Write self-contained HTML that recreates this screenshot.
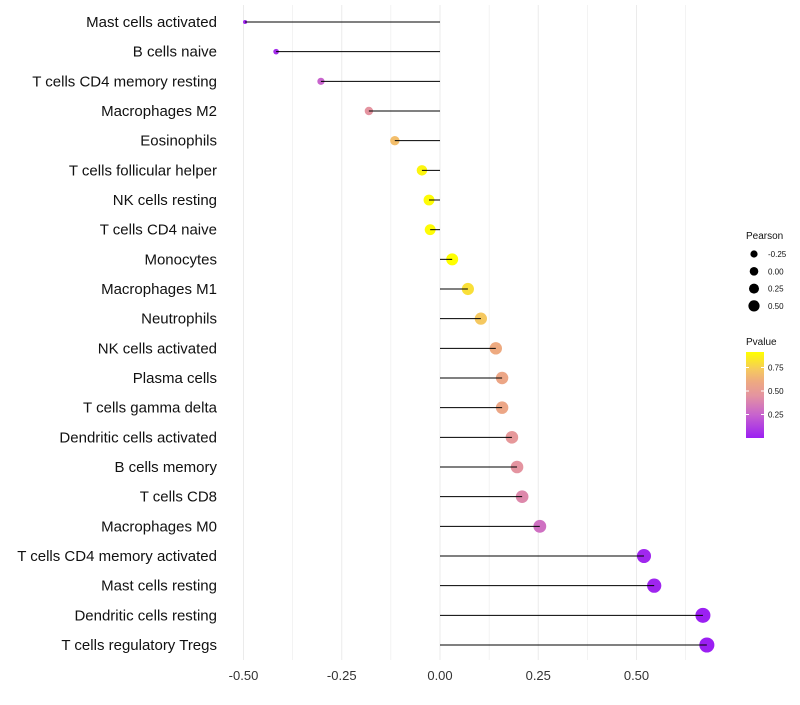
<!DOCTYPE html>
<html><head><meta charset="utf-8"><style>
body{margin:0;background:#fff;font-family:"Liberation Sans",sans-serif}
svg text{font-family:"Liberation Sans",sans-serif}
</style></head><body>
<svg id="c" width="800" height="700"></svg>
<script>
const categories=["Mast cells activated","B cells naive","T cells CD4 memory resting","Macrophages M2","Eosinophils","T cells follicular helper","NK cells resting","T cells CD4 naive","Monocytes","Macrophages M1","Neutrophils","NK cells activated","Plasma cells","T cells gamma delta","Dendritic cells activated","B cells memory","T cells CD8","Macrophages M0","T cells CD4 memory activated","Mast cells resting","Dendritic cells resting","T cells regulatory  Tregs"];
const pearson=[-0.496,-0.417,-0.303,-0.181,-0.115,-0.046,-0.028,-0.025,0.031,0.071,0.104,0.142,0.158,0.158,0.183,0.196,0.209,0.254,0.519,0.545,0.669,0.679];
const pvalue=[0.02,0.05,0.25,0.45,0.68,0.88,0.9,0.9,0.91,0.8,0.72,0.6,0.57,0.57,0.48,0.45,0.4,0.3,0.03,0.02,0.002,0.001];
const xTicks=[-0.5,-0.25,0,0.25,0.5];
const xTickLabels=["-0.50","-0.25","0.00","0.25","0.50"];
const sizeLegend=[-0.25,0,0.25,0.5];
const sizeLegendLabels=["-0.25","0.00","0.25","0.50"];
const pTicks=[0.25,0.5,0.75];
const pTickLabels=["0.25","0.50","0.75"];

const NS="http://www.w3.org/2000/svg",svg=document.getElementById('c');
function mk(t,a,p){const e=document.createElementNS(NS,t);for(const k in a)e.setAttribute(k,a[k]);(p||svg).appendChild(e);return e;}
const x=v=>440+v*393;
const y=i=>22+i*(623/21);
const rTab=[[-0.5,2],[-0.4,3],[-0.3,3.6],[-0.18,4.2],[-0.05,5.2],[0.03,6],[0.25,6.4],[0.5,7],[0.7,7.6]];
function r(v){if(v<=rTab[0][0])return rTab[0][1];for(let i=1;i<rTab.length;i++){if(v<=rTab[i][0]){const a=rTab[i-1],b=rTab[i],t=(v-a[0])/(b[0]-a[0]);return a[1]+(b[1]-a[1])*t;}}return rTab[rTab.length-1][1];}
const stops=[[0,[155,31,242]],[0.25,[200,100,205]],[0.45,[228,148,160]],[0.6,[238,170,128]],[0.72,[245,200,96]],[0.91,[255,255,0]]];
function col(p){p=Math.min(0.91,Math.max(0,p));for(let i=1;i<stops.length;i++){if(p<=stops[i][0]){const a=stops[i-1],b=stops[i],t=(p-a[0])/(b[0]-a[0]);return 'rgb('+a[1].map((c,j)=>Math.round(c+(b[1][j]-c)*t)).join(',')+')';}}return 'rgb(255,255,0)';}
for(let v=-0.5;v<=0.62501;v+=0.125){const g=mk('line',{x1:x(v),x2:x(v),y1:5,y2:660,stroke:'#ebebeb','stroke-width':Math.abs((v*4)%1)<1e-6?1:0.6});
}
xTicks.forEach((v,i)=>{const t=mk('text',{x:x(v),y:680,'text-anchor':'middle','font-size':13,fill:'#333'});t.textContent=xTickLabels[i];
});
categories.forEach((c,i)=>{
const t=mk('text',{x:217,y:y(i)+5,'text-anchor':'end','font-size':15,fill:'#111'});t.textContent=c;

const s=mk('circle',{cx:x(pearson[i]),cy:y(i),r:r(pearson[i]),fill:col(pvalue[i])});

const l=mk('line',{x1:x(0),x2:x(pearson[i]),y1:y(i),y2:y(i),stroke:'#000','stroke-width':1});

});
let t=mk('text',{x:746,y:239,'font-size':10,fill:'#111'});t.textContent='Pearson';

const legR=[3.6,4.3,5,5.6];
sizeLegend.forEach((v,i)=>{const cy=254+i*17.3;const c=mk('circle',{cx:754,cy:cy,r:legR[i],fill:'#000'});

const tt=mk('text',{x:768,y:cy+3,'font-size':8,fill:'#111'});tt.textContent=sizeLegendLabels[i];
});
t=mk('text',{x:746,y:345,'font-size':10,fill:'#111'});t.textContent='Pvalue';

const defs=mk('defs',{});const lg=mk('linearGradient',{id:'g',x1:0,y1:1,x2:0,y2:0},defs);
stops.forEach(s=>mk('stop',{offset:s[0]/0.91,'stop-color':'rgb('+s[1].join(',')+')'},lg));
const bar=mk('rect',{x:746,y:352,width:18,height:86,fill:'url(#g)'});

const py=p=>438-p*94;
pTicks.forEach((p,i)=>{mk('line',{x1:746,x2:749,y1:py(p),y2:py(p),stroke:'#fff'});mk('line',{x1:761,x2:764,y1:py(p),y2:py(p),stroke:'#fff'});
const tt=mk('text',{x:768,y:py(p)+3,'font-size':8,fill:'#111'});tt.textContent=pTickLabels[i];
});
</script>
</body></html>
